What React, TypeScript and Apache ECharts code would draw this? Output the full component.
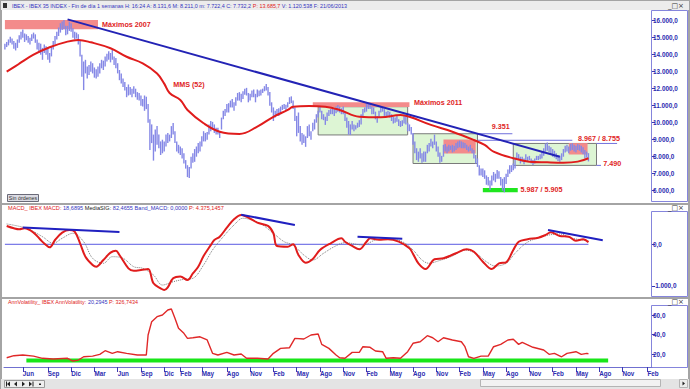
import React, { useEffect, useRef } from 'react';
import * as echarts from 'echarts';

// Week 0 = Friday 2007-03-23, one slot per week
const WEEK_COUNT = 362;

const weeklyLows = [
  14300,14450,14550,14700,14600,14350,14250,14400,14700,14900,
  15000,14750,14850,14700,14600,14800,14950,14700,14300,14100,
  14000,13700,14100,14000,13700,13530,13900,14300,14600,14900,
  15100,15300,15450,15500,15150,15200,15400,15350,15000,14900,
  14950,14600,13900,12700,11920,12900,12600,12800,13000,12900,
  12650,12600,12700,12900,13200,13100,13300,13600,13700,13550,
  13700,13400,13200,12900,12500,12300,12100,11900,11500,11600,
  11650,11500,11700,11500,11350,11300,11000,10950,10700,10800,
  10000,8400,8800,7770,8300,8700,8500,8100,8200,8300,
  8600,8800,8900,9100,9300,8800,8300,8200,8100,7900,
  7600,7300,6800,6750,7300,7650,7700,8000,8200,8300,
  8600,8900,8900,9000,9300,9500,9600,9400,9300,9300,
  9100,9600,10200,10400,10600,10600,10900,10900,10700,11000,
  11300,11300,11200,11400,11650,11600,11200,11300,11500,11500,
  11200,11500,11550,11600,11750,11850,11900,11600,11000,10600,
  10100,10300,10400,10400,10500,10750,10800,10750,10900,11100,
  11150,10800,10100,9200,9400,8900,8700,8800,8580,9100,
  9200,9000,9500,9600,10000,10300,10600,10200,10150,9870,
  10100,10400,10500,10500,10400,10550,10650,10600,10500,10500,
  10100,9700,9300,9280,9600,9500,9600,9700,9750,9900,
  10400,10600,10650,10800,10800,10500,10500,10200,10000,10300,
  10600,10650,10400,10300,10400,10300,10100,9950,10000,10050,
  9800,9750,9800,9950,9900,9500,9500,9300,8700,8200,
  7800,7700,7900,7640,7700,7700,8200,8300,8600,8500,
  8700,8300,8000,7650,7700,8000,8300,8200,8300,8400,
  8250,8300,8400,8500,8550,8500,8500,8500,8400,8300,
  8350,8200,7900,7600,7400,6900,6900,6800,6700,6350,
  6300,6040,6300,6600,6500,6700,6700,6300,6000,5905,
  6400,6800,7000,7100,7200,7300,7900,7800,7600,7700,
  7550,7800,7700,7800,7600,7510,7600,7800,7800,7850,
  7900,8050,8300,8350,8250,8150,8000,7950,7850,7750,
  7700,7800,8000,8250,8300,8200,8350,8400,8300,8250,
  8400,8350,8250,8150,7900,7950,7722,
];

const weeklyHighs = [
  14650,14750,14900,15050,14950,14800,14700,14900,15150,15350,
  15490,15250,15200,15100,15000,15200,15300,15200,14900,14700,
  14650,14400,14600,14500,14350,14100,14500,14800,15100,15350,
  15600,15850,15950,16040,15700,15700,15950,15850,15550,15350,
  15300,15200,14800,14000,13600,13700,13300,13400,13600,13500,
  13250,13150,13300,13500,13700,13650,13900,14050,14200,14100,
  14280,13900,13800,13500,13100,12900,12600,12400,12100,12250,
  12100,12000,12150,12000,11800,11750,11600,11400,11600,11530,
  11100,10200,9900,9300,9600,9800,9300,8900,9000,8900,
  9300,9400,9300,9800,9980,9500,8900,8700,8600,8500,
  8200,7800,7500,7400,8000,8200,8450,8600,8800,8900,
  9200,9500,9400,9450,9900,10100,10050,9900,9700,9700,
  9500,10300,10700,10800,11100,11150,11300,11400,11200,11500,
  11750,11800,11700,11850,12000,12050,11750,11700,11900,11950,
  11700,11950,11900,11950,12000,12150,12280,12100,11800,11200,
  10900,10700,10800,10850,10950,11050,11100,11050,11200,11500,
  11550,11300,10900,10400,10600,9800,9400,9300,9200,9800,
  9900,9500,10000,10200,10500,10700,10930,10700,10500,10350,
  10600,10750,10800,10850,10800,10950,11040,10950,10850,10950,
  10600,10300,10100,9900,10100,9900,9850,10000,10150,10500,
  10800,10900,11100,11160,11100,10950,10900,10650,10400,10700,
  10930,10900,10800,10650,10700,10650,10500,10350,10300,10400,
  10200,10100,10150,10450,10400,10000,9900,9750,9400,8900,
  8500,8300,8500,8200,8300,8300,8700,8800,9050,8900,
  9300,8900,8600,8250,8050,8700,8750,8600,8700,8650,
  8700,8650,8800,8900,8950,8900,8850,8800,8700,8600,
  8700,8500,8400,8100,7900,7500,7300,7300,7200,6900,
  6800,6600,6900,7100,7000,7220,7150,6800,6700,6800,
  7000,7250,7500,7500,7600,7950,8250,8150,8000,8000,
  7900,8150,8000,8050,7900,7800,7900,8050,8050,8150,
  8300,8500,8780,8830,8650,8550,8450,8350,8200,8100,
  8050,8200,8450,8650,8700,8600,8750,8800,8700,8650,
  8750,8700,8650,8550,8400,8300,8211,
];

const mmsWeeks = [1, 8, 16, 25, 35, 41, 48, 59, 68, 77, 85, 89, 92, 98, 102, 111, 120, 131, 141, 150, 158, 161, 170, 179, 187, 198, 210, 221, 226, 238, 250, 262, 268, 273, 284, 293, 303, 312, 320, 326];
const mmsValues = [13000, 13470, 14000, 14440, 14770, 14865, 14730, 14380, 13880, 13490, 12900, 12300, 11750, 11340, 10750, 9970, 9470, 9340, 9770, 10350, 10750, 10940, 10980, 10940, 10750, 10350, 10320, 10450, 10350, 9870, 9470, 8980, 8690, 8300, 7910, 7710, 7670, 7650, 7710, 7910];

const trendWeeks = [35, 310];
const trendValues = [16080, 8000];

const rangeBoxWeeks = [[175, 225], [228, 264], [284, 330.5]];
const rangeBoxValues = [[9280, 10940], [7600, 9351], [7490, 8780]];
const redZoneWeeks = [[0, 52], [172, 226], [245, 263], [315, 325.5]];
const redZoneValues = [[15500, 16040], [10920, 11200], [8190, 9010], [8130, 8800]];
const supportWeeks = [267, 286.5];
const supportValues = [5905, 6160];

const levelLineWeeks = [[264, 283.5], [264, 317], [330.5, 342], [330.5, 333]];
const levelLineValues = [9351, 8967, 8780, 7490];

const labelTexts = ['Máximos 2007', 'MMS (52)', 'Máximos 2011', '9.351', '8.967 / 8.755', '7.490', '5.987 / 5.905'];
const labelWeeks = [54.3, 94, 228.5, 272, 320.2, 334.3, 288];
const labelValues = [15806, 12219, 11161, 9750, 9044, 7574, 6045];

const macdWeeks = [1,5,8,11,16,20,22,25,28,32,36,39,42,45,49,51,55,59,62,64,69,72,76,80,83,87,89,91,94,98,102,105,108,111,115,117,120,124,128,132,136,141,147,150,152,158,161,164,168,172,176,182,188,190,194,198,202,204,209,214,220,226,228,231,235,240,245,252,258,262,267,272,276,280,284,287,292,298,302,305,310,315,319,323,326];
const macdValues = [439,384,360,384,280,103,20,-72,103,280,343,302,24,-298,-497,-538,-377,-200,-154,-257,-576,-634,-617,-590,-936,-1056,-1097,-1032,-816,-770,-857,-700,-538,-280,-20,103,182,400,600,703,640,520,440,264,-41,-58,0,-257,-440,-350,-137,24,144,62,-40,-120,60,144,110,120,62,-96,-230,-456,-593,-360,-336,-216,-120,-178,-418,-593,-456,-432,-137,62,120,158,223,288,199,182,86,120,50];

const signalWeeks = [1,12,21,27,32,38,44,49,55,60,66,72,77,83,88,94,100,105,111,116,122,128,133,139,144,150,156,161,167,172,178,184,190,200,207,214,222,228,233,237,242,250,257,263,269,274,280,285,291,297,304,310,317,326];
const signalValues = [487,384,182,24,144,264,62,-336,-456,-298,-336,-538,-576,-737,-977,-898,-840,-816,-497,-137,182,463,624,566,463,264,62,-17,-257,-377,-216,-58,38,-17,103,144,62,-137,-377,-456,-401,-281,-137,-216,-418,-521,-456,-216,24,144,223,247,144,86];

const macdZeroWeeks = [0, 326];
const divergenceWeeks = [[10, 64], [132, 162], [197, 222], [303.4, 334]];
const divergenceValues = [[403, 295], [710, 463], [182, 132], [343, 96]];

const volWeeks = [1,5,10,16,21,27,35,38,41,44,49,53,56,60,63,68,74,79,80,82,85,88,91,93,95,97,100,102,105,109,113,116,119,124,128,132,135,141,147,150,154,159,162,167,171,175,177,181,185,187,190,194,198,200,204,207,211,213,217,221,225,228,232,236,239,242,245,250,255,257,259,262,266,270,273,277,281,284,287,289,295,301,304,307,311,314,319,322,325,326];
const volValues = [16.2,18.3,19,17.9,15.6,14.9,15.6,12.8,13.8,17.2,17.9,19.7,23.4,20.7,22.4,20.7,19,19,39.5,53.2,58.3,60,65.1,66.2,56.6,46.4,41.2,36.1,36.7,37.7,34.4,20.7,19,21.7,19,20,15.6,15.6,14.9,20.7,25.8,26.5,36.1,35.4,39.5,40.5,29.9,25.8,19,16.2,15.6,21.7,21.7,27.5,26.9,23.1,22.4,15.6,16.2,15.6,22.4,31,32.6,38.8,36.7,32.6,36.7,34.4,32.6,27.5,17.2,15.6,17.9,17.9,27.5,29.9,34.4,35.1,29.9,32,26.9,24.1,19.7,20.7,17.2,20.7,22.4,19.7,20.7,20.3];
const volFloorWeeks = [12, 337];
const volFloorValue = 13.3;

const priceTicks = [6000, 7000, 8000, 9000, 10000, 11000, 12000, 13000, 14000, 15000, 16000];
const macdTicks = [-1000, 0];
const volTicks = [20, 40, 60];
const monthTickWeeks = [10, 24, 37, 50, 63, 76, 89, 98, 110, 124, 137, 150, 163, 176, 189, 202, 215, 228, 241, 254, 267, 280, 293, 306, 319, 332, 345, 359];
const monthTickLabels = ['Jun','Sep','Dic','Mar','Jun','Sep','Dic','Feb','May','Ago','Nov','Feb','May','Ago','Nov','Feb','May','Ago','Nov','Feb','May','Ago','Nov','Feb','May','Ago','Nov','Feb'];

const FONT = '"Liberation Sans", Arial, sans-serif';
const AXIS_BLUE = '#2c2cb0';

const fmtNum = (v: number) => {
  const neg = v < 0;
  const [i, d] = Math.abs(v).toFixed(1).split('.');
  return (neg ? '-' : '') + i.replace(/\B(?=(\d{3})+(?!\d))/g, '.') + ',' + d;
};

const pairs = (ws: number[], vs: number[]) => ws.map((w, i) => [w, vs[i]]);

function yAxisCfg(gridIndex: number, min: number, max: number, ticks: number[]) {
  return {
    type: 'value', gridIndex, position: 'right', min, max,
    axisLine: { show: false, onZero: false },
    splitLine: { show: false },
    axisTick: { show: true, customValues: ticks, length: 3, lineStyle: { color: '#3a3ab4', width: 1 } },
    axisLabel: { show: true, customValues: ticks, formatter: fmtNum, margin: 1, fontSize: 6.4, fontWeight: 'bold', color: AXIS_BLUE, fontFamily: FONT },
  };
}

function xAxisCfg(gridIndex: number, labelled: boolean) {
  return {
    type: 'value', gridIndex, min: -0.5, max: WEEK_COUNT - 0.5,
    show: labelled,
    splitLine: { show: false },
    axisLine: { show: labelled, onZero: false, lineStyle: { color: '#7070d0', width: 1 } },
    axisTick: { show: labelled, customValues: monthTickWeeks, length: 5, lineStyle: { color: '#3a3ab4' } },
    axisLabel: {
      show: labelled, customValues: monthTickWeeks, align: 'left', margin: 3,
      fontSize: 6.3, fontWeight: 'bold', color: AXIS_BLUE, fontFamily: FONT,
      formatter: (v: number) => {
        const k = monthTickWeeks.indexOf(Math.round(v));
        return k >= 0 ? monthTickLabels[k] : '';
      },
    },
  };
}

function segmentSeries(name: string, axis: number, rows: number[][], color: string, width: number, z: number) {
  return {
    name, type: 'custom', xAxisIndex: axis, yAxisIndex: axis, z, silent: true,
    data: rows,
    encode: { x: [0, 2], y: [1, 3] },
    renderItem: (_p: any, api: any) => {
      const a = api.coord([api.value(0), api.value(1)]);
      const b = api.coord([api.value(2), api.value(3)]);
      return { type: 'line', shape: { x1: a[0], y1: a[1], x2: b[0], y2: b[1] }, style: { stroke: color, lineWidth: width } };
    },
  };
}

function buildOption() {
  const bars = weeklyLows.map((lo, i) => [i, lo, weeklyHighs[i]]);
  const rects: number[][] = [];
  rangeBoxWeeks.forEach((w, i) => rects.push([w[0], rangeBoxValues[i][0], w[1], rangeBoxValues[i][1], 0]));
  redZoneWeeks.forEach((w, i) => rects.push([w[0], redZoneValues[i][0], w[1], redZoneValues[i][1], 1]));
  rects.push([supportWeeks[0], supportValues[0], supportWeeks[1], supportValues[1], 2]);
  const rectStyles = [
    { fill: '#ddf5d4', stroke: '#7a7a7a', lineWidth: 1 },
    { fill: '#f38b8b' },
    { fill: '#1fe61f' },
  ];

  const levelRows = levelLineWeeks.map((w, i) => [w[0], levelLineValues[i], w[1], levelLineValues[i]]);
  const divRows = divergenceWeeks.map((w, i) => [w[0], divergenceValues[i][0], w[1], divergenceValues[i][1]]);

  const graphic: any[] = [
    { type: 'rect', z: -30, shape: { x: 0, y: 0, width: 690, height: 389 }, style: { fill: '#a4a4a4' } },
    { type: 'rect', z: -29, shape: { x: 1, y: 1, width: 688, height: 9 }, style: { fill: '#ececec' } },
    { type: 'rect', z: -29, shape: { x: 2, y: 10, width: 686, height: 193 }, style: { fill: '#ffffff' } },
    { type: 'rect', z: -29, shape: { x: 2, y: 205, width: 686, height: 92 }, style: { fill: '#ffffff' } },
    { type: 'rect', z: -29, shape: { x: 2, y: 299, width: 686, height: 80 }, style: { fill: '#ffffff' } },
    { type: 'rect', z: -29, shape: { x: 1, y: 379, width: 688, height: 10 }, style: { fill: '#e4e4e4' } },
    { type: 'rect', z: -28, shape: { x: 651.5, y: 10.5, width: 36, height: 191 }, style: { fill: 'none', stroke: '#8585dc', lineWidth: 1 } },
    { type: 'rect', z: -28, shape: { x: 651.5, y: 211.5, width: 36, height: 85 }, style: { fill: 'none', stroke: '#8585dc', lineWidth: 1 } },
    { type: 'rect', z: -28, shape: { x: 651.5, y: 305.5, width: 36, height: 62 }, style: { fill: 'none', stroke: '#8585dc', lineWidth: 1 } },
    { type: 'rect', z: 50, shape: { x: 3, y: 3, width: 4, height: 5 }, style: { fill: '#333' } },
    {
      type: 'text', z: 50, x: 12, y: 5.5,
      style: {
        text: '{b|IBEX - IBEX 35 INDEX - Fin de día 1 semanas H: 16:24 A: 8.131,6 M: 8.211,0 m: 7.722,4 C: 7.732,2 }{r|P: 13.685,7}{b| V: 1.120.538 F: 21/06/2013}',
        rich: { b: { fill: '#3434c0', fontSize: 5.4, fontFamily: FONT }, r: { fill: '#e02020', fontSize: 5.4, fontFamily: FONT } },
        verticalAlign: 'middle',
      },
    },
    {
      type: 'text', z: 50, x: 8, y: 208,
      style: {
        text: '{r|MACD_ IBEX MACD: }{b|18,6895 }{k|MediaSIG: }{b|82,4655 Band_MACD: 0,0000 }{r|P: 4.375,1457}',
        rich: {
          r: { fill: '#e02020', fontSize: 5.6, fontFamily: FONT },
          b: { fill: '#3434c0', fontSize: 5.6, fontFamily: FONT },
          k: { fill: '#222222', fontSize: 5.6, fontFamily: FONT },
        },
        verticalAlign: 'middle',
      },
    },
    {
      type: 'text', z: 50, x: 8, y: 301.5,
      style: {
        text: '{r|AnnVolatility_ IBEX AnnVolatility: }{b|20,2945 }{r|P: 326,7434}',
        rich: { r: { fill: '#e02020', fontSize: 5.4, fontFamily: FONT }, b: { fill: '#3434c0', fontSize: 5.4, fontFamily: FONT } },
        verticalAlign: 'middle',
      },
    },
    { type: 'text', z: 50, x: 668, y: 5.5, style: { text: '_□×', fill: '#333', fontSize: 7, fontFamily: '"DejaVu Sans", sans-serif', verticalAlign: 'middle' } },
    { type: 'text', z: 50, x: 668, y: 208, style: { text: '_□×', fill: '#333', fontSize: 7, fontFamily: '"DejaVu Sans", sans-serif', verticalAlign: 'middle' } },
    { type: 'text', z: 50, x: 668, y: 302, style: { text: '_□×', fill: '#333', fontSize: 7, fontFamily: '"DejaVu Sans", sans-serif', verticalAlign: 'middle' } },
    { type: 'rect', z: 50, shape: { x: 7.5, y: 194.5, width: 31, height: 7 }, style: { fill: '#dcdce4', stroke: '#6a6a78', lineWidth: 1 } },
    { type: 'text', z: 51, x: 23, y: 198, style: { text: 'Sin órdenes', fill: '#333', fontSize: 5.3, fontFamily: FONT, align: 'center', verticalAlign: 'middle' } },
    // navigation buttons
    { type: 'rect', z: 50, shape: { x: 4.5, y: 380.5, width: 40, height: 7 }, style: { fill: '#efefef', stroke: '#9a9a9a', lineWidth: 1 } },
    { type: 'polygon', z: 51, shape: { points: [[10, 381.5], [10, 386.5], [7, 384]] }, style: { fill: '#222' } },
    { type: 'rect', z: 51, shape: { x: 6, y: 381.5, width: 1, height: 5 }, style: { fill: '#222' } },
    { type: 'polygon', z: 51, shape: { points: [[17, 381.5], [17, 386.5], [14, 384]] }, style: { fill: '#222' } },
    { type: 'polygon', z: 51, shape: { points: [[22, 381.5], [22, 386.5], [25, 384]] }, style: { fill: '#222' } },
    { type: 'polygon', z: 51, shape: { points: [[29, 381.5], [29, 386.5], [32, 384]] }, style: { fill: '#222' } },
    { type: 'rect', z: 51, shape: { x: 32.5, y: 381.5, width: 1, height: 5 }, style: { fill: '#222' } },
    { type: 'rect', z: 51, shape: { x: 39, y: 383.5, width: 2, height: 1.5 }, style: { fill: '#222' } },
    // scroll bar
    { type: 'rect', z: 50, shape: { x: 480.5, y: 379.5, width: 180, height: 7 }, style: { fill: '#f2f2f2', stroke: '#b4b4b4', lineWidth: 1 } },
    { type: 'rect', z: 50, shape: { x: 679.5, y: 379.5, width: 8, height: 8 }, style: { fill: '#ececec', stroke: '#b4b4b4', lineWidth: 1 } },
    { type: 'polygon', z: 51, shape: { points: [[682.5, 381.5], [682.5, 385.5], [685, 383.5]] }, style: { fill: '#222' } },
  ];

  return {
    animation: false,
    backgroundColor: '#a4a4a4',
    textStyle: { fontFamily: FONT },
    graphic,
    grid: [
      { left: 4, top: 10, width: 648, height: 193 },
      { left: 4, top: 206, width: 648, height: 91 },
      { left: 4, top: 300, width: 648, height: 67 },
    ],
    xAxis: [xAxisCfg(0, false), xAxisCfg(1, false), xAxisCfg(2, true)],
    yAxis: [
      yAxisCfg(0, 5277, 16630, priceTicks),
      yAxisCfg(1, -1264, 918, macdTicks),
      yAxisCfg(2, 6.7, 75.4, volTicks),
    ],
    series: [
      {
        name: 'zonas', type: 'custom', xAxisIndex: 0, yAxisIndex: 0, z: 1, silent: true,
        data: rects, encode: { x: [0, 2], y: [1, 3] },
        renderItem: (_p: any, api: any) => {
          const a = api.coord([api.value(0), api.value(3)]);
          const b = api.coord([api.value(2), api.value(1)]);
          const st = rectStyles[api.value(4)];
          return { type: 'rect', shape: { x: a[0], y: a[1], width: b[0] - a[0], height: b[1] - a[1] }, style: { ...st } };
        },
      },
      {
        name: 'IBEX', type: 'custom', xAxisIndex: 0, yAxisIndex: 0, z: 3, silent: true,
        data: bars, encode: { x: 0, y: [1, 2] },
        renderItem: (_p: any, api: any) => {
          const a = api.coord([api.value(0), api.value(1)]);
          const b = api.coord([api.value(0), api.value(2)]);
          return { type: 'line', shape: { x1: a[0], y1: a[1], x2: b[0], y2: b[1] }, style: { stroke: '#8588e6', lineWidth: 1.4 } };
        },
      },
      {
        name: 'MMS (52)', type: 'line', xAxisIndex: 0, yAxisIndex: 0, z: 4, silent: true,
        data: pairs(mmsWeeks, mmsValues), smooth: 0.4, showSymbol: false,
        lineStyle: { color: '#e01c1c', width: 2 },
      },
      segmentSeries('niveles', 0, levelRows, '#7070dc', 1, 4),
      {
        name: 'tendencia', type: 'line', xAxisIndex: 0, yAxisIndex: 0, z: 5, silent: true,
        data: pairs(trendWeeks, trendValues), showSymbol: false,
        lineStyle: { color: '#2323b5', width: 2 },
      },
      {
        name: 'etiquetas', type: 'custom', xAxisIndex: 0, yAxisIndex: 0, z: 6, silent: true,
        data: labelWeeks.map((w, i) => [w, labelValues[i], i]), encode: { x: 0, y: 1 },
        renderItem: (_p: any, api: any) => {
          const p = api.coord([api.value(0), api.value(1)]);
          return {
            type: 'text', x: p[0], y: p[1],
            style: { text: labelTexts[api.value(2)], fill: '#e02424', fontSize: 7.2, fontWeight: 'bold', fontFamily: FONT, align: 'left', verticalAlign: 'middle' },
          };
        },
      },
      segmentSeries('cero', 1, [[macdZeroWeeks[0], 0, macdZeroWeeks[1], 0]], '#5a5ae2', 1, 2),
      {
        name: 'MediaSIG', type: 'line', xAxisIndex: 1, yAxisIndex: 1, z: 3, silent: true,
        data: pairs(signalWeeks, signalValues), smooth: 0.35, showSymbol: false,
        lineStyle: { color: '#7a7a7a', width: 1, type: 'dotted' },
      },
      {
        name: 'MACD', type: 'line', xAxisIndex: 1, yAxisIndex: 1, z: 4, silent: true,
        data: pairs(macdWeeks, macdValues), smooth: 0.35, showSymbol: false,
        lineStyle: { color: '#e01c1c', width: 2 },
      },
      segmentSeries('divergencias', 1, divRows, '#2020c0', 2, 5),
      segmentSeries('suelo', 2, [[volFloorWeeks[0], volFloorValue, volFloorWeeks[1], volFloorValue]], '#19e619', 4, 2),
      {
        name: 'AnnVolatility', type: 'line', xAxisIndex: 2, yAxisIndex: 2, z: 4, silent: true,
        data: pairs(volWeeks, volValues), showSymbol: false,
        lineStyle: { color: '#e02828', width: 1.4 },
      },
    ],
  };
}

export default function App() {
  const ref = useRef<HTMLDivElement>(null);
  useEffect(() => {
    if (!ref.current) return;
    const chart = echarts.init(ref.current, undefined, { renderer: 'svg' });
    chart.setOption(buildOption() as any);
    return () => chart.dispose();
  }, []);
  return <div ref={ref} style={{ position: 'fixed', left: 0, top: 0, width: 690, height: 389 }} />;
}
